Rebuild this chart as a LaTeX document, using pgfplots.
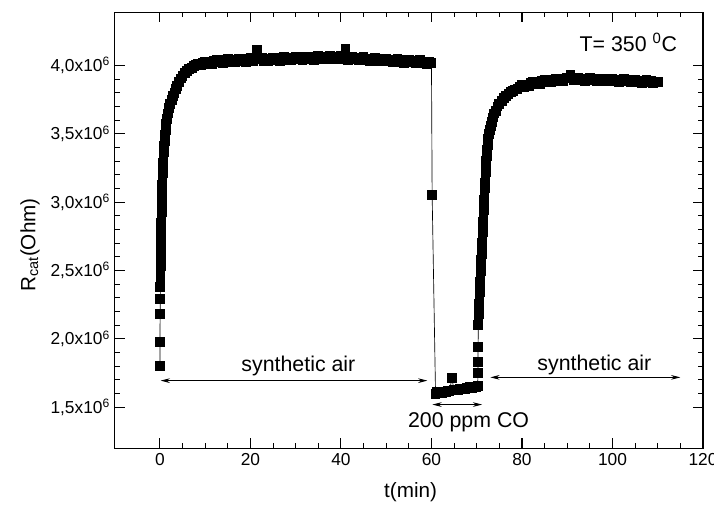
\documentclass[border=0pt]{standalone}
\usepackage{pgfplots}
\pgfplotsset{compat=1.18}
\usepackage{fontspec}
\setmainfont{Liberation Sans}
\usetikzlibrary{arrows.meta}
\begin{document}
\begin{tikzpicture}
\begin{axis}[
  scale only axis, width=441.2pt, height=327pt,
  xmin=-10, xmax=120, ymin=1.2, ymax=4.39,
  xtick={0,20,40,60,80,100,120}, minor x tick num=3,
  ytick={1.5,2.0,2.5,3.0,3.5,4.0}, minor y tick num=4,
  yticklabels={{1,5x10\textsuperscript{6}},{2,0x10\textsuperscript{6}},{2,5x10\textsuperscript{6}},{3,0x10\textsuperscript{6}},{3,5x10\textsuperscript{6}},{4,0x10\textsuperscript{6}}},
  /pgf/number format/assume math mode=true,
  tick label style={font=\fontsize{13}{15}\selectfont, text=black},
  major tick length=7.5pt, minor tick length=3.75pt,
  axis line style={line width=0.9pt},
  every tick/.style={black, line width=0.8pt},
  xlabel={t(min)}, ylabel={R\textsubscript{cat}(Ohm)},
  label style={font=\fontsize{15.5}{18}\selectfont},
  xlabel style={at={(axis description cs:0.503,-0.1)}, anchor=center},
  ylabel style={at={(axis description cs:-0.144,0.466)}, anchor=center},
  clip=false,
]
\addplot[black, line width=0.5pt, mark=square*, mark size=3.3pt, mark options={solid, fill=black, line width=0pt}] coordinates {
(0,1.80)(0,1.975)(0.05,2.18)(0.08,2.29)(0.1,2.38)(0.12,2.45)(0.13,2.49)(0.15,2.53)(0.17,2.57)(0.19,2.61)(0.21,2.65)(0.23,2.69)(0.25,2.73)(0.27,2.77)(0.29,2.81)(0.31,2.85)(0.34,2.89)(0.37,2.93)(0.4,2.97)(0.43,3.01)(0.46,3.05)(0.5,3.09)(0.54,3.13)(0.58,3.17)(0.63,3.21)(0.68,3.25)(0.74,3.29)(0.8,3.33)(0.87,3.37)(0.95,3.41)(1.04,3.45)(1.15,3.49)(1.28,3.53)(1.42,3.57)(1.6,3.61)(1.8,3.65)(2.05,3.69)(2.3,3.72)(2.6,3.75)(2.9,3.78)(3.2,3.80)(3.5,3.83)(3.8,3.85)(4.2,3.88)(4.6,3.905)(5.0,3.925)(5.5,3.945)(6.0,3.96)(6.5,3.975)(7.0,3.985)(7.5,3.998)(8.0,4.002)
(8.5,4.015)(9,4.004)(9.5,4.020)(10,4.030)(10.5,4.012)(11,4.026)(11.5,4.012)(12,4.032)(12.5,4.040)(13,4.022)(13.5,4.035)(14,4.020)(14.5,4.039)(15,4.046)(15.5,4.027)(16,4.040)(16.5,4.025)(17,4.044)(17.5,4.051)(18,4.032)(18.5,4.044)(19,4.029)(19.5,4.047)(20,4.054)(20.5,4.034)(21,4.046)(21.5,4.118)(22,4.049)(22.5,4.056)(23,4.036)(23.5,4.049)(24,4.033)(24.5,4.052)(25,4.058)(25.5,4.039)(26,4.051)(26.5,4.036)(27,4.054)(27.5,4.061)(28,4.042)(28.5,4.054)(29,4.039)(29.5,4.057)(30,4.064)(30.5,4.044)(31,4.057)(31.5,4.041)(32,4.060)(32.5,4.066)(33,4.046)(33.5,4.059)(34,4.043)(34.5,4.062)(35,4.068)(35.5,4.048)(36,4.061)(36.5,4.045)(37,4.063)(37.5,4.070)(38,4.050)(38.5,4.062)(39,4.046)(39.5,4.064)(40,4.070)(40.5,4.049)(41,4.125)(41.5,4.043)(42,4.060)(42.5,4.065)(43,4.044)(43.5,4.055)(44,4.039)(44.5,4.056)(45,4.061)(45.5,4.040)(46,4.051)(46.5,4.034)(47,4.051)(47.5,4.056)(48,4.036)(48.5,4.047)(49,4.030)(49.5,4.047)(50,4.052)(50.5,4.031)(51,4.042)(51.5,4.025)(52,4.042)(52.5,4.047)(53,4.027)(53.5,4.038)(54,4.021)(54.5,4.038)(55,4.043)(55.5,4.022)(56,4.033)(56.5,4.016)(57,4.033)(57.5,4.038)(58,4.018)(58.5,4.029)(59,4.012)(59.5,4.029)(60,4.020)
(60.15,3.055)
(60.9,1.600)(61.2,1.610)(61.6,1.603)(62.0,1.612)(62.4,1.607)(62.8,1.616)(63.2,1.612)(63.6,1.620)(64.0,1.616)(64.5,1.715)(65.0,1.625)(65.4,1.630)(65.8,1.626)(66.2,1.634)(66.6,1.630)(67.0,1.638)(67.4,1.634)(67.8,1.642)(68.2,1.638)(68.6,1.646)(69.0,1.643)(69.4,1.650)(69.8,1.648)(70.2,1.656)
(70.3,1.75)(70.3,1.83)(70.3,1.94)(70.35,2.10)(70.4,2.14)(70.45,2.18)(70.5,2.22)(70.55,2.26)(70.6,2.30)(70.66,2.34)(70.72,2.38)(70.78,2.42)(70.84,2.46)(70.9,2.50)(70.96,2.54)(71.02,2.58)(71.08,2.62)(71.14,2.66)(71.2,2.70)(71.26,2.74)(71.32,2.78)(71.38,2.82)(71.44,2.86)(71.5,2.90)(71.56,2.94)(71.62,2.98)(71.68,3.02)(71.74,3.06)(71.8,3.10)(71.86,3.14)(71.92,3.18)(71.98,3.22)(72.05,3.26)(72.12,3.30)(72.2,3.34)(72.3,3.38)(72.42,3.42)(72.56,3.46)(72.72,3.50)(72.9,3.53)(73.1,3.56)(73.35,3.59)(73.6,3.62)(73.9,3.65)(74.2,3.67)(74.6,3.70)(75.0,3.72)(75.5,3.74)(76.0,3.76)(76.5,3.777)(77,3.79)(77.5,3.804)(78,3.812)(78.5,3.825)(79,3.83)(79.5,3.842)(80,3.855)(80.5,3.844)(81,3.860)(81.5,3.850)(82,3.870)(82.5,3.878)(83,3.866)(83.5,3.879)(84,3.868)(84.5,3.886)(85,3.894)(85.5,3.880)(86,3.892)(86.5,3.880)(87,3.897)(87.5,3.904)(88,3.890)(88.5,3.902)(89,3.889)(89.5,3.905)(90,3.911)(90.7,3.935)(91,3.906)(91.5,3.892)(92,3.907)(92.5,3.911)(93,3.895)(93.5,3.904)(94,3.890)(94.5,3.904)(95,3.909)(95.5,3.892)(96,3.902)(96.5,3.887)(97,3.902)(97.5,3.906)(98,3.890)(98.5,3.899)(99,3.885)(99.5,3.899)(100,3.904)(100.5,3.887)(101,3.897)(101.5,3.882)(102,3.897)(102.5,3.901)(103,3.885)(103.5,3.894)(104,3.879)(104.5,3.894)(105,3.898)(105.5,3.881)(106,3.890)(106.5,3.875)(107,3.889)(107.5,3.893)(108,3.876)(108.5,3.885)(109,3.870)(109.5,3.884)(110,3.878)
};
\draw[black, line width=0.6pt, {Stealth[length=7pt,width=3.5pt]}-{Stealth[length=7pt,width=3.5pt]}] (axis cs:0.15,1.695) -- (axis cs:59.1,1.695);
\draw[black, line width=0.6pt, {Stealth[length=7pt,width=3.5pt]}-{Stealth[length=7pt,width=3.5pt]}] (axis cs:73.0,1.719) -- (axis cs:115.0,1.719);
\draw[black, line width=0.6pt, {Stealth[length=7pt,width=3.5pt]}-{Stealth[length=7pt,width=3.5pt]}] (axis cs:60.2,1.52) -- (axis cs:71.2,1.52);
\node[font=\fontsize{16}{19}\selectfont, inner sep=0pt] at (axis cs:30.6,1.80) {synthetic air};
\node[font=\fontsize{16}{19}\selectfont, inner sep=0pt] at (axis cs:96.0,1.808) {synthetic air};
\node[font=\fontsize{16}{19}\selectfont, inner sep=0pt] at (axis cs:68.2,1.388) {200 ppm CO};
\node[font=\fontsize{16}{19}\selectfont, inner sep=0pt] at (axis cs:103.5,4.17) {T= 350 \textsuperscript{0}C};
\end{axis}
\pgfresetboundingbox
\useasboundingbox ([xshift=-86pt,yshift=-46.3pt]current axis.south west) rectangle ([xshift=8.25pt,yshift=9.2pt]current axis.north east);
\end{tikzpicture}
\end{document}
